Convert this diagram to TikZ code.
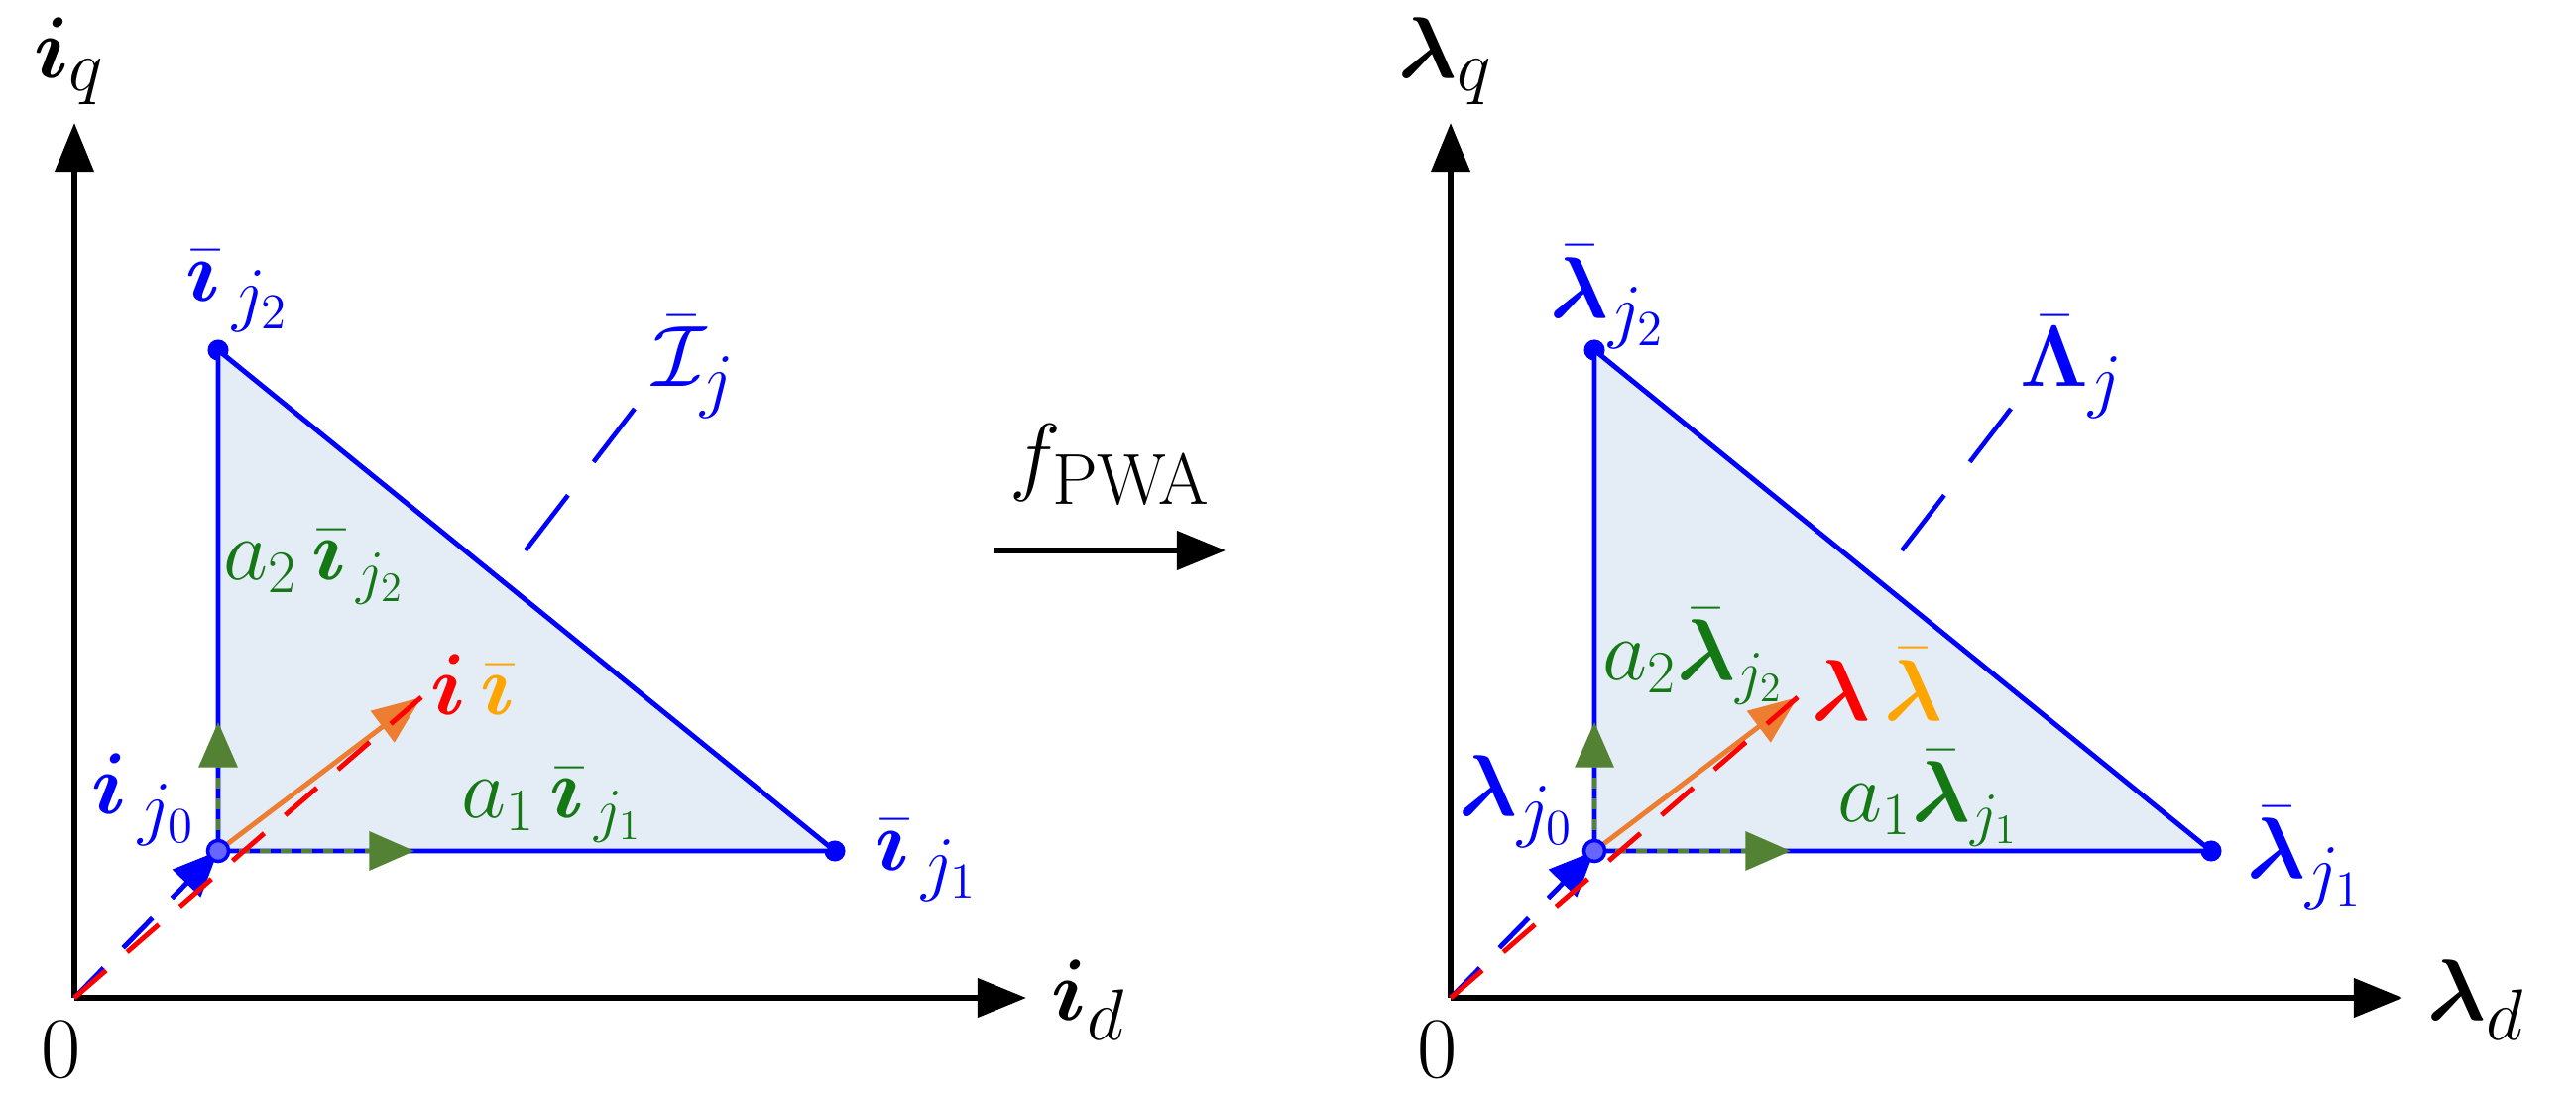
\documentclass[tikz,border=0pt]{standalone}
\usepackage{amsmath,amssymb,bm}
\usetikzlibrary{arrows.meta}
\definecolor{fillb}{RGB}{228,236,246}
\definecolor{gr}{RGB}{84,130,53}
\definecolor{dgr}{RGB}{20,120,20}
\definecolor{org}{RGB}{237,125,49}
\definecolor{yel}{RGB}{255,165,0}
\begin{document}
\begin{tikzpicture}[x=0.01cm,y=-0.01cm,
 ax/.style={line width=1.6pt,-{Triangle[length=14pt,width=11pt]}},
 ed/.style={blue,line width=1.4pt},
 lab/.style={font=\fontsize{28}{32}\selectfont,inner sep=0pt},
 sl/.style={font=\fontsize{23}{27}\selectfont,inner sep=0pt},
 garr/.style={gr,line width=1.3pt,dash pattern=on 3pt off 3pt,-{Triangle[length=13pt,width=11pt]}},
 dot/.style={circle,fill=blue,inner sep=0pt,minimum size=6pt}]
\useasboundingbox (0,0) rectangle (2598,1107);
\foreach \o/\s/\q/\d in {0/i/{\bm i_q}/{\bm i_d},1388/l/{\bm\lambda_q}/{\bm\lambda_d}}{
\begin{scope}[xshift=\o*0.01cm]
 \coordinate (O\s) at (75,1006);
 \coordinate (Xt\s) at (1035,1006);
 \coordinate (Yt\s) at (75,124);
 \coordinate (J0\s) at (220,858);
 \node[dot] (J1\s) at (842,858) {};
 \node[dot] (J2\s) at (220,353) {};
 \fill[fillb] (J0\s) -- (J1\s.center) -- (J2\s.center) -- cycle;
 \draw[ed] (J0\s) -- (J1\s.center) -- (J2\s.center) -- cycle;
 \draw[ax] (O\s) -- (Xt\s);
 \draw[ax] (O\s) -- (Yt\s);
 \node[lab] (q\s) at (70,62) {$\q$};
 \node[lab,anchor=west] (d\s) at (1060,1008) {$\d$};
 \node[font=\fontsize{24}{28}\selectfont] (z\s) at (62,1058) {$0$};
 \coordinate (Gu\s) at (220,728);
 \coordinate (Gr\s) at (418,858);
 \draw[garr] (J0\s) -- (Gu\s);
 \draw[garr] (J0\s) -- (Gr\s);
 \coordinate (P\s) at (425,703);
 \draw[org,line width=1.4pt,-{Triangle[length=14pt,width=11pt]}] (J0\s) -- (P\s);
 \draw[blue,line width=1.4pt,dash pattern=on 12pt off 8pt,-{Triangle[length=13pt,width=11pt]}] (O\s) -- (J0\s);
 \draw[red,line width=1.4pt,dash pattern=on 12pt off 8pt] (O\s) -- (P\s);
 \node[circle,draw=blue,fill=blue!60,line width=1pt,inner sep=0pt,minimum size=6pt] (c\s) at (J0\s) {};
 \coordinate (Ls\s) at (530,555);
 \coordinate (Le\s) at (640,412);
 \draw[blue,line width=1.3pt,dash pattern=on 20pt off 12pt] (Ls\s) -- (Le\s);
\end{scope}}
% left labels
\node[lab,blue] (l2) at (240,294) {$\bar{\bm\imath}_{\,j_2}$};
\node[lab,blue] (l1) at (935,868) {$\bar{\bm\imath}_{\,j_1}$};
\node[lab,blue] (l0) at (145,806) {$\bm i_{\,j_0}$};
\node[lab,blue] (LI) at (700,370) {$\bar{\mathcal I}_{j}$};
\node[sl,text=dgr] (a2) at (317,572) {$a_2\,\bar{\bm\imath}_{\,j_2}$};
\node[sl,text=dgr] (a1) at (557,812) {$a_1\,\bar{\bm\imath}_{\,j_1}$};
\node[lab] (ii) at (477,690) {$\textcolor{red}{\bm i}\,\textcolor{yel}{\bar{\bm\imath}}$};
% right labels
\node[lab,blue] (r2) at (1622,300) {$\bar{\bm\lambda}_{j_2}$};
\node[lab,blue] (r1) at (2325,865) {$\bar{\bm\lambda}_{j_1}$};
\node[lab,blue] (r0) at (1530,808) {$\bm\lambda_{j_0}$};
\node[lab,blue] (LL) at (2090,370) {$\bar{\bm\Lambda}_{j}$};
\node[sl,text=dgr] (b2) at (1708,662) {$a_2\bar{\bm\lambda}_{j_2}$};
\node[sl,text=dgr] (b1) at (1945,805) {$a_1\bar{\bm\lambda}_{j_1}$};
\node[lab] (ll) at (1893,690) {$\textcolor{red}{\bm\lambda}\,\textcolor{yel}{\bar{\bm\lambda}}$};
% mapping arrow
\node[lab] (f) at (1120,468) {$f_{\mathrm{PWA}}$};
\coordinate (fa) at (1002,555);
\coordinate (fb) at (1236,555);
\draw[ax] (fa) -- (fb);
\end{tikzpicture}
\end{document}
